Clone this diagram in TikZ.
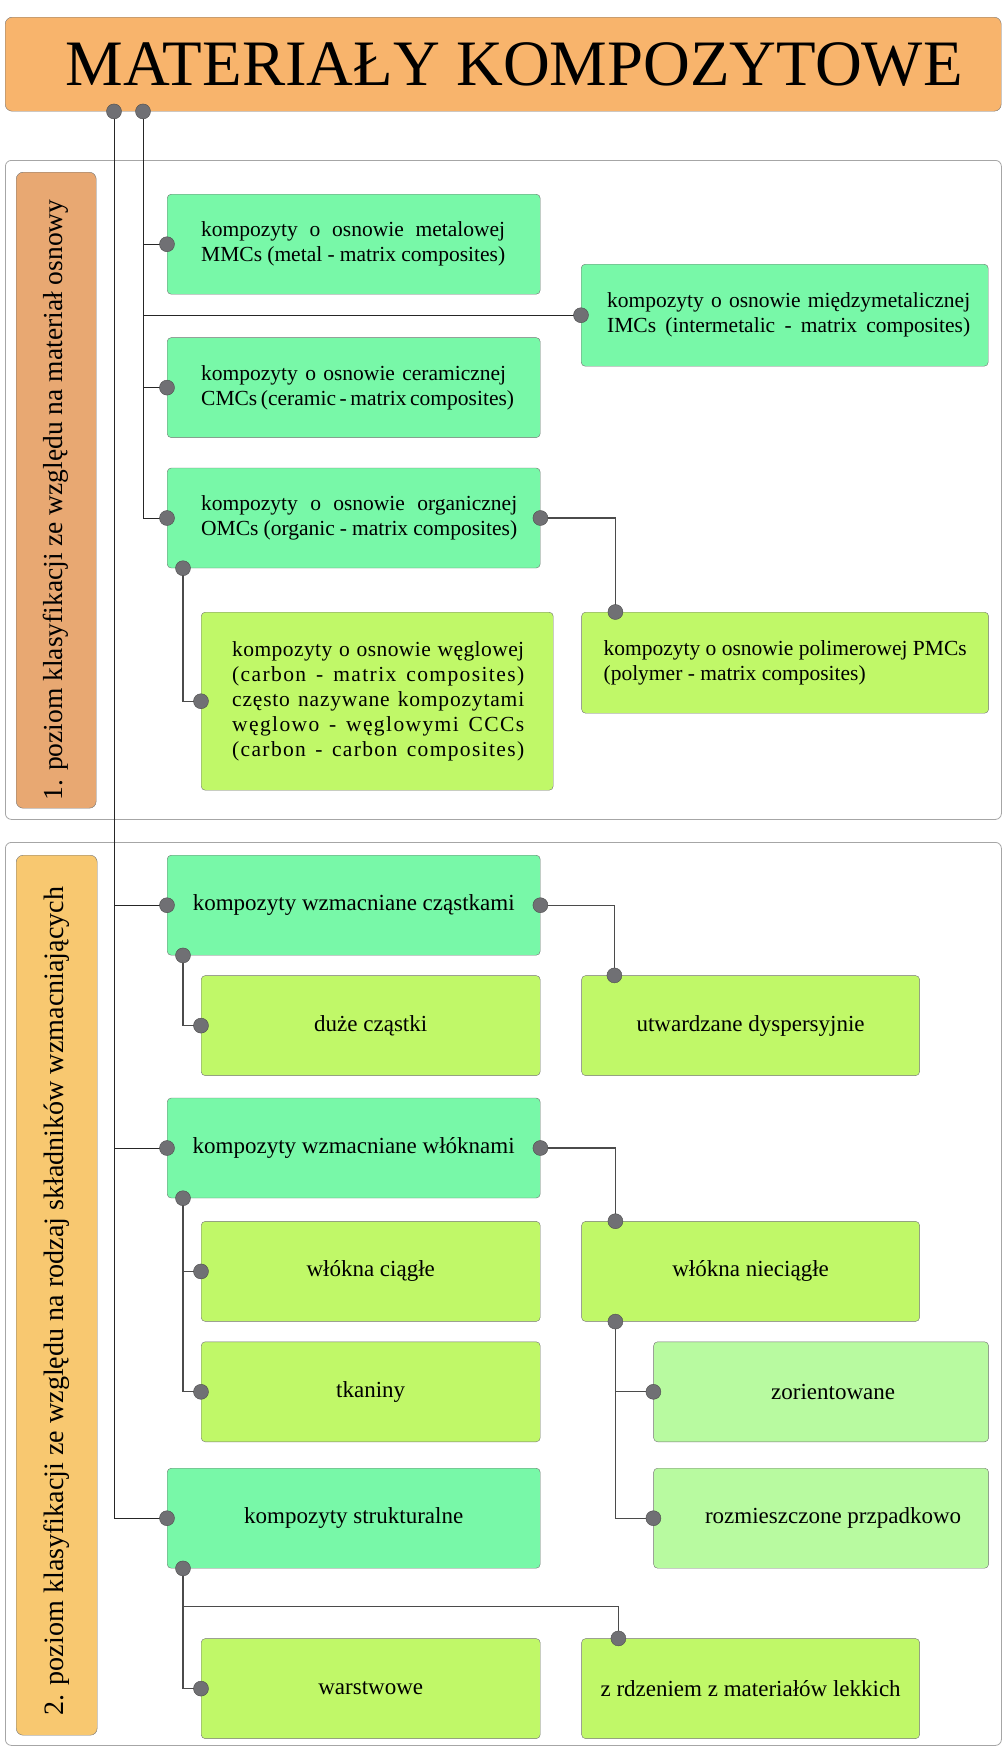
\documentclass[tikz,border=0pt]{standalone}
\usepackage{fontspec}
\setmainfont{Liberation Serif}
\usetikzlibrary{positioning}

\definecolor{titlefill}{RGB}{248,180,108}
\definecolor{levelonefill}{RGB}{232,168,114}
\definecolor{leveltwofill}{RGB}{248,200,112}
\definecolor{matrixfill}{RGB}{120,248,168}
\definecolor{subfill}{RGB}{192,248,104}
\definecolor{leaffill}{RGB}{184,250,160}
\definecolor{edgegray}{RGB}{115,115,115}
\definecolor{dotgray}{RGB}{112,112,116}
\definecolor{linkgray}{RGB}{75,75,75}

\newcommand{\titlefont}{\fontsize{64.8}{70}\selectfont}
\newcommand{\levelfont}{\fontsize{27.5}{30}\selectfont}
\newcommand{\leveltwofont}{\fontsize{28.1}{30}\selectfont}
\newcommand{\cardfont}{\fontsize{21.5}{25}\selectfont}
\newcommand{\kindfont}{\fontsize{23}{26}\selectfont}
\newcommand{\spreadline}[2]{\makebox[#1][s]{#2}}
\newcommand{\spacedline}[2]{{\addfontfeatures{LetterSpace=#1}\makebox[292pt][s]{#2}}}

\begin{document}
\begin{tikzpicture}[
    x=1pt, y=-1pt,
    panel/.style={
      rectangle, draw=black!35, line width=0.8pt, rounded corners=6pt,
      anchor=north west, inner sep=0pt
    },
    levelbox/.style={
      rectangle, draw=edgegray, fill=#1, rounded corners=7pt, inner sep=0pt
    },
    card/.style={
      rectangle, draw=edgegray, rounded corners=4pt, anchor=north west,
      inner sep=0pt, minimum height=100pt, font=\kindfont, align=center
    },
    matrixcard/.style={card, fill=matrixfill},
    subcard/.style={card, fill=subfill},
    leafcard/.style={card, fill=leaffill},
    note/.style 2 args={
      label={[anchor=west, align=left, font=\cardfont, inner sep=0pt, xshift=#1]west:{#2}}
    },
    dot/.style={circle, draw=black!70, fill=dotgray, minimum size=15pt, inner sep=0pt},
    link/.style={draw=linkgray, line width=1.2pt},
    trunk/.style={draw=black!85, line width=1pt}
  ]
  \useasboundingbox (0,0) rectangle (1003,1757);
  \node[panel, minimum width=996pt, minimum height=659pt] (panelone) at (5,160) {};
  \node[panel, minimum width=996pt, minimum height=903pt] (paneltwo) at (5,842) {};
  \node[levelbox=titlefill, anchor=north west, minimum width=996pt, minimum height=94pt, font=\titlefont] (title) at (5,17) {\hspace*{22pt}MATERIAŁY KOMPOZYTOWE};
  \node[levelbox=levelonefill, anchor=north west, minimum width=80pt, minimum height=636pt] (levelone) at (16,172) {};
  \node[rotate=90, font=\levelfont] (leveltextone) at ([yshift=-10pt]levelone.center) {1. poziom klasyfikacji ze względu na materiał osnowy};
  \node[levelbox=leveltwofill, anchor=north west, minimum width=81pt, minimum height=880pt] (leveltwo) at (16,855) {};
  \node[rotate=90, font=\leveltwofont] (leveltexttwo) at ([yshift=-6pt]leveltwo.center) {2. poziom klasyfikacji ze względu na rodzaj składników wzmacniających};

  \node[matrixcard, minimum width=373pt, note={34pt}{\spreadline{304pt}{kompozyty o osnowie metalowej}\\\spreadline{304pt}{MMCs (metal - matrix composites)}}] (mmc) at (167,194) {};
  \node[matrixcard, minimum width=373pt, below=43pt of mmc.south west, anchor=north west, note={34pt}{\spreadline{305pt}{kompozyty o osnowie ceramicznej}\\\spreadline{305pt}{CMCs (ceramic - matrix composites)}}] (cmc) {};
  \node[matrixcard, minimum width=373pt, below=30pt of cmc.south west, anchor=north west, note={34pt}{\spreadline{316pt}{kompozyty o osnowie organicznej}\\\spreadline{316pt}{OMCs (organic - matrix composites)}}] (omc) {};
  \node[matrixcard, minimum width=407pt, minimum height=102pt, note={26pt}{\spreadline{363pt}{kompozyty o osnowie międzymetalicznej}\\\spreadline{363pt}{IMCs (intermetalic - matrix composites)}}] (imc) at (581,264) {};
  \node[subcard, minimum width=352pt, minimum height=178pt, note={31pt}{\spacedline{2}{kompozyty o osnowie węglowej}\\\spacedline{6.5}{(carbon - matrix composites)}\\\spacedline{3.8}{często nazywane kompozytami}\\\spacedline{6.5}{węglowo - węglowymi CCCs}\\\spacedline{6.3}{(carbon - carbon composites)}}] (ccc) at (201,612) {};
  \node[subcard, minimum width=407pt, minimum height=101pt, right=28pt of ccc.north east, anchor=north west, note={22pt}{kompozyty o osnowie polimerowej PMCs\\(polymer - matrix composites)}] (pmc) {};

  \node[matrixcard, minimum width=373pt] (czastki) at (167,855) {kompozyty wzmacniane cząstkami};
  \node[subcard, minimum width=339pt, below right=20pt and 34pt of czastki.south west, anchor=north west] (duze) {duże cząstki};
  \node[subcard, minimum width=338pt, right=41pt of duze.north east, anchor=north west] (utw) {utwardzane dyspersyjnie};
  \node[matrixcard, minimum width=373pt, below left=22pt and 34pt of duze.south west, anchor=north west] (wlokna) {kompozyty wzmacniane włóknami};
  \node[subcard, minimum width=339pt, below right=23pt and 34pt of wlokna.south west, anchor=north west] (ciagle) {włókna ciągłe};
  \node[subcard, minimum width=338pt, right=41pt of ciagle.north east, anchor=north west] (niecg) {włókna nieciągłe};
  \node[subcard, minimum width=339pt, below=20pt of ciagle.south west, anchor=north west] (tkaniny) {tkaniny};
  \node[leafcard, minimum width=335pt, right=113pt of tkaniny.north east, anchor=north west] (zorient) {\hspace*{24pt}zorientowane};
  \node[matrixcard, minimum width=373pt, below left=26pt and 34pt of tkaniny.south west, anchor=north west] (strukt) {kompozyty strukturalne};
  \node[leafcard, minimum width=335pt, below=26pt of zorient.south west, anchor=north west] (rozm) {\hspace*{24pt}rozmieszczone przpadkowo};
  \node[subcard, minimum width=339pt, below right=70pt and 34pt of strukt.south west, anchor=north west] (warstw) {warstwowe};
  \node[subcard, minimum width=338pt, right=41pt of warstw.north east, anchor=north west] (rdzen) {z rdzeniem z materiałów lekkich};

  \coordinate (rootA) at ([xshift=109pt]title.south west);
  \coordinate (rootB) at ([xshift=138pt]title.south west);
  \coordinate (omcB) at ([xshift=16pt]omc.south west);
  \coordinate (pmcT) at ([xshift=34pt]pmc.north west);
  \coordinate (czastkiB) at ([xshift=16pt]czastki.south west);
  \coordinate (utwT) at ([xshift=33pt]utw.north west);
  \coordinate (wloknaB) at ([xshift=16pt]wlokna.south west);
  \coordinate (niecgT) at ([xshift=34pt]niecg.north west);
  \coordinate (niecgB) at ([xshift=34pt]niecg.south west);
  \coordinate (struktB) at ([xshift=16pt]strukt.south west);
  \coordinate (rdzenT) at ([xshift=37pt]rdzen.north west);

  \draw[trunk] (rootB) |- (mmc.west);
  \draw[trunk] (rootB) |- (imc.west);
  \draw[trunk] (rootB) |- (cmc.west);
  \draw[trunk] (rootB) |- (omc.west);
  \draw[trunk] (rootA) |- (czastki.west);
  \draw[trunk] (rootA) |- (wlokna.west);
  \draw[trunk] (rootA) |- (strukt.west);
  \draw[link] (omc.east) -| (pmcT);
  \draw[link] (omcB) |- (ccc.west);
  \draw[link] (czastki.east) -| (utwT);
  \draw[link] (czastkiB) |- (duze.west);
  \draw[link] (wlokna.east) -| (niecgT);
  \draw[link] (wloknaB) |- (ciagle.west);
  \draw[link] (wloknaB) |- (tkaniny.west);
  \draw[link] (niecgB) |- (zorient.west);
  \draw[link] (niecgB) |- (rozm.west);
  \draw[link] (struktB) |- (warstw.west);
  \draw[link] (struktB) -- ++(0,38) -| (rdzenT);

  \foreach \p [count=\i] in {rootA, rootB, mmc.west, imc.west, cmc.west, omc.west, omc.east, pmcT, omcB, ccc.west,
      czastki.west, czastki.east, utwT, czastkiB, duze.west, wlokna.west, wlokna.east, niecgT, wloknaB,
      ciagle.west, tkaniny.west, niecgB, zorient.west, rozm.west, strukt.west, struktB, warstw.west, rdzenT}
    \node[dot] (dot\i) at (\p) {};
\end{tikzpicture}
\end{document}
